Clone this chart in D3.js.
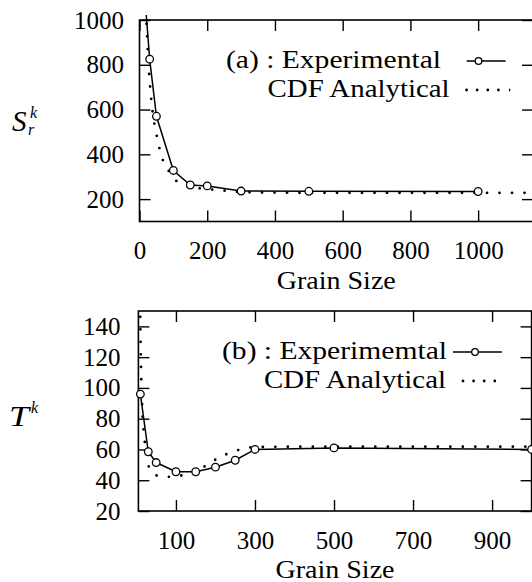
<!DOCTYPE html>
<html>
<head>
<meta charset="utf-8">
<script src="https://cdn.jsdelivr.net/npm/d3@7"></script>
<style>
  body { margin: 0; background: #fff; }
</style>
</head>
<body>
<script>
// (a) S_r^k against grain size
const grainA = [10, 30, 50, 100, 150, 200, 300, 500, 1000];
const expA = [1220, 825, 570, 328, 263, 259, 236, 235, 234];
const cdfGrainA = [15, 20, 25, 30, 35, 40, 50, 60, 70, 90, 120, 160, 200, 250, 300, 400, 600, 800, 1000, 1200];
const cdfA = [1150, 1000, 850, 730, 640, 575, 490, 420, 370, 318, 268, 252, 245, 238, 232, 229, 228, 228, 228, 228];
const xTicksA = [0, 200, 400, 600, 800, 1000];
const yTicksA = [200, 400, 600, 800, 1000];

// (b) T^k against grain size
const grainB = [10, 30, 50, 100, 150, 200, 250, 300, 500, 1000];
const expB = [96, 58.5, 51.5, 45.5, 45.5, 48.5, 53, 60, 61, 60];
const cdfGrainB = [5, 8, 10, 12, 15, 20, 30, 40, 60, 90, 120, 150, 180, 210, 240, 270, 300, 400, 600, 800, 1000];
const cdfB = [260, 180, 140, 110, 85, 68, 50, 45, 42.5, 42.2, 43.5, 46.5, 50, 55, 58, 60.5, 61.5, 61.8, 61.8, 61.8, 61.8];
const xTicksB = [100, 300, 500, 700, 900];
const yTicksB = [20, 40, 60, 80, 100, 120, 140];

const legendA = ["(a) : Experimental", "CDF Analytical"];
const legendB = ["(b) : Experimemtal", "CDF Analytical"];

// look for an installed serif face, fall back to the generic one
function pickSerif() {
    const ctx = document.createElement("canvas").getContext("2d");
    const sample = "Grain Size 1000 (a) : Experimental";
    const widthOf = f => { ctx.font = "40px " + f; return ctx.measureText(sample).width; };
    const mono = widthOf("monospace");
    const sans = widthOf("sans-serif");
    const cands = ["Liberation Serif", "DejaVu Serif", "Noto Serif", "Times New Roman", "Tinos", "FreeSerif", "Nimbus Roman"];
    for (const c of cands) {
        const w1 = widthOf(`"${c}", monospace`);
        const w2 = widthOf(`"${c}", sans-serif`);
        if (w1 !== mono && w2 !== sans) return `"${c}"`;
    }
    return "serif";
}
const FONT = pickSerif() + ", serif";

const svg = d3.select("body").append("svg")
    .attr("width", 532)
    .attr("height", 582)
    .style("font-family", FONT);

// layout of each panel, in pixels
const panels = [
    {
        id: "a", grain: grainA, exp: expA, cdfGrain: cdfGrainA, cdf: cdfA,
        xTicks: xTicksA, yTicks: yTicksA, legend: legendA,
        xDomain: [0, 1162], yDomain: [100, 1000],
        left: 139.5, right: 533, top: 20, bottom: 221.5,
        yPad: 15.5,
        // legend: text end, text width, sample start/end, marker x
        leg: [{ end: 441, w: 215, x0: 466.6, x1: 505.6, cx: 478.5 },
              { end: 449.6, w: 182, x0: 466.6, x1: 509 }]
    },
    {
        id: "b", grain: grainB, exp: expB, cdfGrain: cdfGrainB, cdf: cdfB,
        xTicks: xTicksB, yTicks: yTicksB, legend: legendB,
        xDomain: [5, 1000], yDomain: [20, 150],
        left: 138.4, right: 531.6, top: 311, bottom: 511,
        yPad: 18,
        leg: [{ end: 447, w: 225, x0: 453, x1: 502, cx: 475 },
              { end: 446, w: 182, x0: 463, x1: 505 }]
    }
];

function styleAxis(g) {
    g.select(".domain").remove();
    g.attr("font-family", null).attr("font-size", 25);
    g.selectAll(".tick line").attr("stroke-width", 1.4);
}

function drawPanel(p) {
    const x = d3.scaleLinear().domain(p.xDomain).range([p.left, p.right]);
    const y = d3.scaleLinear().domain(p.yDomain).range([p.bottom, p.top]);
    const g = svg.append("g");

    g.append("defs").append("clipPath").attr("id", "clip-" + p.id)
        .append("rect")
        .attr("x", p.left - 5).attr("y", p.top - 5)
        .attr("width", p.right - p.left + 10).attr("height", p.bottom - p.top + 10);

    // inward ticks on all four sides, labels only left and bottom
    g.append("g").attr("transform", `translate(0,${p.bottom})`)
        .call(d3.axisBottom(x).tickValues(p.xTicks).tickSize(-11).tickPadding(20).tickFormat(d3.format("d")))
        .call(styleAxis);
    g.append("g").attr("transform", `translate(0,${p.top})`)
        .call(d3.axisTop(x).tickValues(p.xTicks).tickSize(-11).tickFormat(""))
        .call(styleAxis);
    g.append("g").attr("transform", `translate(${p.left},0)`)
        .call(d3.axisLeft(y).tickValues(p.yTicks).tickSize(-11).tickPadding(p.yPad).tickFormat(d3.format("d")))
        .call(styleAxis);
    g.append("g").attr("transform", `translate(${p.right},0)`)
        .call(d3.axisRight(y).tickValues(p.yTicks).tickSize(-11).tickFormat(""))
        .call(styleAxis);

    g.append("rect")
        .attr("x", p.left).attr("y", p.top)
        .attr("width", p.right - p.left).attr("height", p.bottom - p.top)
        .attr("fill", "none").attr("stroke", "#000").attr("stroke-width", 1.6);

    const plot = g.append("g").attr("clip-path", `url(#clip-${p.id})`);

    const cdfLine = d3.line().curve(d3.curveMonotoneX)
        .x((d, i) => x(p.cdfGrain[i])).y(d => y(d));
    plot.append("path").datum(p.cdf)
        .attr("d", cdfLine)
        .attr("fill", "none").attr("stroke", "#000")
        .attr("stroke-width", 2.8).attr("stroke-linecap", "round")
        .attr("stroke-dasharray", "0 12.5");

    const expLine = d3.line().x((d, i) => x(p.grain[i])).y(d => y(d));
    plot.append("path").datum(p.exp)
        .attr("d", expLine)
        .attr("fill", "none").attr("stroke", "#000").attr("stroke-width", 1.5);

    plot.selectAll("circle").data(p.exp).join("circle")
        .attr("cx", (d, i) => x(p.grain[i]))
        .attr("cy", d => y(d))
        .attr("r", 3.8)
        .attr("fill", "#fff").attr("stroke", "#000").attr("stroke-width", 1.3);

    // x label
    g.append("text")
        .attr("x", (p.left + p.right) / 2 - 59.5).attr("y", p.bottom + 67)
        .attr("font-size", 25)
        .attr("textLength", 119).attr("lengthAdjust", "spacingAndGlyphs")
        .text("Grain Size");

    // legend
    const rows = [p.top + 48, p.top + 77];
    p.legend.forEach((label, i) => {
        const L = p.leg[i];
        g.append("text")
            .attr("x", L.end - L.w).attr("y", rows[i])
            .attr("font-size", 25)
            .attr("textLength", L.w).attr("lengthAdjust", "spacingAndGlyphs")
            .text(label);
        const ly = rows[i] - 7;
        if (i === 0) {
            g.append("line").attr("x1", L.x0).attr("x2", L.x1).attr("y1", ly).attr("y2", ly)
                .attr("stroke", "#000").attr("stroke-width", 1.5);
            g.append("circle").attr("cx", L.cx).attr("cy", ly).attr("r", 3.3)
                .attr("fill", "#fff").attr("stroke", "#000").attr("stroke-width", 1.3);
        } else {
            g.append("line").attr("x1", L.x0).attr("x2", L.x1).attr("y1", ly).attr("y2", ly)
                .attr("stroke", "#000").attr("stroke-width", 2.8)
                .attr("stroke-linecap", "round").attr("stroke-dasharray", "0 10.6");
        }
    });
}

panels.forEach(drawPanel);

// y axis labels
svg.append("text").attr("x", 12).attr("y", 130.5)
    .attr("font-size", 29).attr("font-style", "italic").text("S");
svg.append("text").attr("x", 30).attr("y", 118)
    .attr("font-size", 16).attr("font-style", "italic").text("k");
svg.append("text").attr("x", 28).attr("y", 135)
    .attr("font-size", 16).attr("font-style", "italic").text("r");

svg.append("text").attr("x", 9).attr("y", 425.5)
    .attr("font-size", 30).attr("font-style", "italic")
    .attr("textLength", 20).attr("lengthAdjust", "spacingAndGlyphs").text("T");
svg.append("text").attr("x", 31).attr("y", 413)
    .attr("font-size", 16).attr("font-style", "italic").text("k");
</script>
</body>
</html>
